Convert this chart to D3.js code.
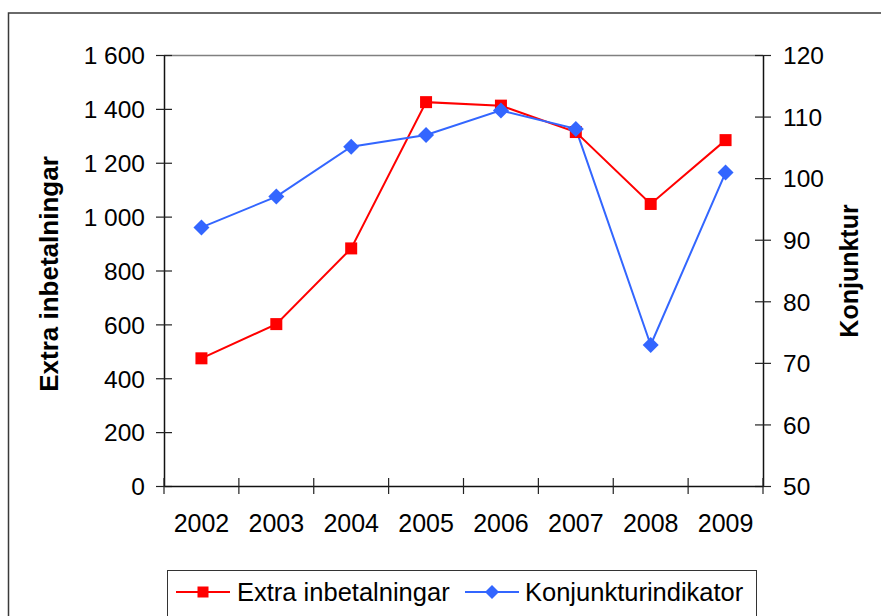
<!DOCTYPE html>
<html>
<head>
<meta charset="utf-8">
<script src="https://cdn.jsdelivr.net/npm/d3@7"></script>
<style>
  html, body { margin: 0; padding: 0; background: #fff; }
  svg { display: block; }
  text { font-family: "Liberation Sans", Arial, sans-serif; }
</style>
</head>
<body>
<svg id="chart" width="881" height="616"></svg>
<script>
// ---- data ----
const years = ["2002", "2003", "2004", "2005", "2006", "2007", "2008", "2009"];
const extraInbetalningar = [474, 601, 882, 1425, 1412, 1314, 1047, 1284];
const konjunkturindikator = [92.0, 97.0, 105.1, 107.0, 111.0, 108.0, 72.9, 100.9];
const leftTicks = [0, 200, 400, 600, 800, 1000, 1200, 1400, 1600];
const rightTicks = [50, 60, 70, 80, 90, 100, 110, 120];
const seriesNames = ["Extra inbetalningar", "Konjunkturindikator"];
const leftTitle = "Extra inbetalningar";
const rightTitle = "Konjunktur";

// ---- layout ----
const W = 881, H = 616;
const plot = { left: 164, right: 763, top: 55, bottom: 486 };
const red = "#FF0000", blue = "#3366FF";
const fs = 24.5;

const svg = d3.select("#chart");
const loc = d3.formatLocale({ decimal: ",", thousands: "\u00a0", grouping: [3], currency: ["", ""] });
const fmt = loc.format(",d");

const x = d3.scaleBand().domain(years).range([plot.left, plot.right]).paddingInner(0).paddingOuter(0);
const yL = d3.scaleLinear().domain([0, 1600]).range([plot.bottom, plot.top]);
const yR = d3.scaleLinear().domain([50, 120]).range([plot.bottom, plot.top]);
const cx = d => x(d) + x.bandwidth() / 2;

// outer frame
svg.append("rect").attr("x", 8.5).attr("y", 13).attr("width", W + 20).attr("height", H + 20)
  .attr("fill", "none").attr("stroke", "#3a3a3a").attr("stroke-width", 1.5);

// plot area top border
svg.append("line").attr("x1", plot.left).attr("x2", plot.right).attr("y1", plot.top + 0.5).attr("y2", plot.top + 0.5)
  .attr("stroke", "#808080").attr("stroke-width", 1.5);

// left axis
const gL = svg.append("g").attr("transform", `translate(${plot.left},0)`)
  .call(d3.axisLeft(yL).tickValues(leftTicks).tickFormat(fmt).tickSizeInner(8).tickSizeOuter(0).tickPadding(11));
gL.selectAll(".tick line").attr("x2", 8).attr("x1", -8).attr("stroke", "#222").attr("stroke-width", 1.2);
gL.select(".domain").attr("stroke", "#111").attr("stroke-width", 1.5);
gL.selectAll(".tick text").attr("x", -19).attr("font-size", fs).attr("fill", "#000")
  .attr("font-family", "'Liberation Sans', Arial, sans-serif").attr("dy", "0.36em");

// right axis
const gR = svg.append("g").attr("transform", `translate(${plot.right},0)`)
  .call(d3.axisRight(yR).tickValues(rightTicks).tickFormat(d3.format("d")).tickSizeInner(8).tickSizeOuter(0));
gR.selectAll(".tick line").attr("x1", -8).attr("x2", 8).attr("stroke", "#222").attr("stroke-width", 1.2);
gR.select(".domain").attr("stroke", "#111").attr("stroke-width", 1.5);
gR.selectAll(".tick text").attr("x", 20).attr("font-size", fs).attr("fill", "#000")
  .attr("font-family", "'Liberation Sans', Arial, sans-serif").attr("dy", "0.36em");

// bottom axis
const gB = svg.append("g").attr("transform", `translate(0,${plot.bottom})`)
  .call(d3.axisBottom(x).tickSize(0).tickPadding(0));
gB.select(".domain").attr("stroke", "#111").attr("stroke-width", 1.5);
gB.selectAll(".tick text").attr("y", 46).attr("font-size", 25).attr("fill", "#000")
  .attr("font-family", "'Liberation Sans', Arial, sans-serif").attr("dy", "0");
const bounds = years.map(d => x(d)).concat([x(years[years.length - 1]) + x.bandwidth()]);
gB.selectAll("line.bt").data(bounds).enter().append("line").attr("class", "bt")
  .attr("x1", d => d).attr("x2", d => d).attr("y1", -8).attr("y2", 8)
  .attr("stroke", "#222").attr("stroke-width", 1.2);

// axis titles
svg.append("text").attr("transform", `translate(58,274) rotate(-90)`)
  .attr("text-anchor", "middle").attr("font-weight", "bold").attr("font-size", 26).text(leftTitle);
svg.append("text").attr("transform", `translate(858,271) rotate(-90)`)
  .attr("text-anchor", "middle").attr("font-weight", "bold").attr("font-size", 25).text(rightTitle);

// series
const lineL = d3.line().x((d, i) => cx(years[i])).y(d => yL(d));
const lineR = d3.line().x((d, i) => cx(years[i])).y(d => yR(d));

svg.append("path").datum(extraInbetalningar).attr("d", lineL).attr("fill", "none").attr("stroke", red).attr("stroke-width", 2);
svg.append("path").datum(konjunkturindikator).attr("d", lineR).attr("fill", "none").attr("stroke", blue).attr("stroke-width", 2);

const sq = 12, dm = 8;
svg.selectAll("rect.m1").data(extraInbetalningar).enter().append("rect").attr("class", "m1")
  .attr("x", (d, i) => cx(years[i]) - sq / 2).attr("y", d => yL(d) - sq / 2)
  .attr("width", sq).attr("height", sq).attr("fill", red);
const diamond = (px, py, r) => `M${px},${py - r}L${px + r},${py}L${px},${py + r}L${px - r},${py}Z`;
svg.selectAll("path.m2").data(konjunkturindikator).enter().append("path").attr("class", "m2")
  .attr("d", (d, i) => diamond(cx(years[i]), yR(d), dm)).attr("fill", blue);

// legend
const lg = svg.append("g");
lg.append("rect").attr("x", 167.5).attr("y", 570.5).attr("width", 589).attr("height", 80)
  .attr("fill", "#fff").attr("stroke", "#333").attr("stroke-width", 1);
const legendItems = [
  { name: seriesNames[0], color: red, x0: 176, type: "sq", tx: 237 },
  { name: seriesNames[1], color: blue, x0: 465, type: "dm", tx: 525 }
];
const ly = 592;
legendItems.forEach(it => {
  lg.append("line").attr("x1", it.x0).attr("x2", it.x0 + 54).attr("y1", ly).attr("y2", ly)
    .attr("stroke", it.color).attr("stroke-width", 2);
  const mx = it.x0 + 27;
  if (it.type === "sq") {
    lg.append("rect").attr("x", mx - 5.5).attr("y", ly - 5.5).attr("width", 11).attr("height", 11).attr("fill", it.color);
  } else {
    lg.append("path").attr("d", diamond(mx, ly, 7)).attr("fill", it.color);
  }
  lg.append("text").attr("x", it.tx).attr("y", ly).attr("dy", "0.36em").attr("font-size", 25.5).attr("fill", "#000").text(it.name);
});
</script>
</body>
</html>
